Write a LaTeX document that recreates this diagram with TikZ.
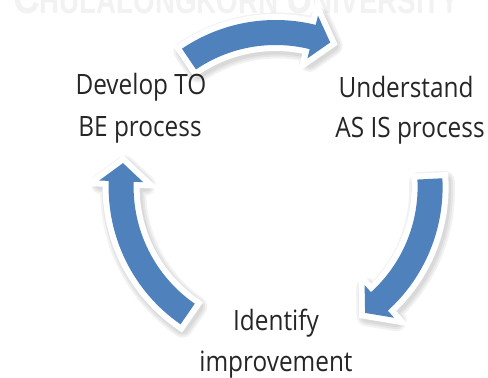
\documentclass[tikz,border=0pt]{standalone}
\usepackage{fontspec}
\setmainfont[FakeStretch=0.87]{Open Sans}
\newfontfamily\wmfont[FakeStretch=0.77]{Liberation Sans}
\definecolor{arrowblue}{HTML}{4F81BD}
\tikzset{
  arrowshape/.style={insert path={(\sa:167pt) arc[start angle=\sa, end angle=\hb, radius=167pt]
     -- (\hb:176.5pt) -- (\ta:154.5pt) -- (\hb:132.5pt) -- (\hb:142pt)
     arc[start angle=\hb, end angle=\sa, radius=142pt] -- cycle}},
  label/.style={font=\fontsize{28}{34}\selectfont, anchor=base, inner sep=0pt, text=black!85}
}
\newcommand\cyclearrow[2]{%
  \def\sa{#1}\def\ta{#2}\pgfmathsetmacro\hb{#2+6.8}%
  \begin{scope}[shift={(275.6,191)}]
    \foreach \lw in {21,17,13}{
      \path[fill=black, draw=black, fill opacity=0.05, draw opacity=0.05, line width=\lw pt, line join=round, xshift=2pt, yshift=-3pt][arrowshape];
    }
    \path[fill=white, draw=white, line width=12pt, line join=miter, miter limit=4][arrowshape];
    \path[fill=arrowblue][arrowshape];
  \end{scope}}
\begin{document}
\begin{tikzpicture}[x=1pt,y=1pt]
\useasboundingbox (0,0) rectangle (488,378);
\clip (0,0) rectangle (488,378);
\fill[white] (0,0) rectangle (488,378);
% watermark
\node[anchor=base west, inner sep=0pt, text=black!5, font=\wmfont\bfseries] (wm) at (13,364)
  {{\fontsize{48}{48}\selectfont C}{\fontsize{36}{36}\selectfont HULALONGKORN\ }{\fontsize{48}{48}\selectfont U}{\fontsize{36}{36}\selectfont NIVERSITY}};
% arrows
\cyclearrow{124.1}{69.3}
\cyclearrow{3.0}{-54.6}
\cyclearrow{235.3}{171.1}
% labels
\node[label] (dev1) at (141,283) {Develop TO};
\node[label] (dev2) at (140,241) {BE process};
\node[label] (und1) at (406,280) {Understand};
\node[label] (und2) at (410,240) {AS IS process};
\node[label] (idf1) at (276,47) {Identify};
\node[label] (idf2) at (276,6) {improvement};
\end{tikzpicture}
\end{document}
